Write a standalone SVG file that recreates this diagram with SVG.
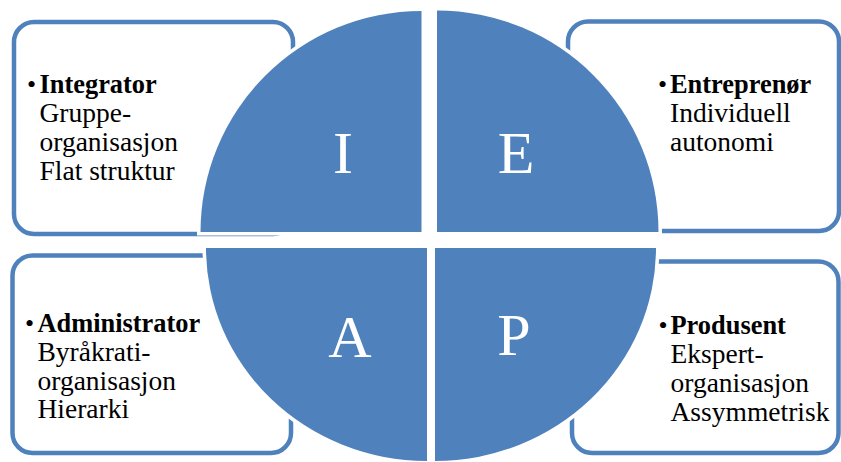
<svg xmlns="http://www.w3.org/2000/svg" width="841" height="462" viewBox="0 0 841 462">
  <style>
    .box { fill: #ffffff; stroke: #4F81BD; stroke-width: 4.5; }
    .q { fill: #4F81BD; stroke: #ffffff; stroke-width: 7; paint-order: stroke; }
    .t { font-family: "Liberation Serif", "Times New Roman", serif; font-size: 27.5px; fill: #000000; }
    .b { font-weight: bold; font-size: 26.4px; }
    .bul { font-family: "Liberation Serif", "Times New Roman", serif; font-size: 26px; fill: #000000; }
    .L { font-family: "Liberation Serif", "Times New Roman", serif; font-size: 60px; fill: #ffffff; text-anchor: middle; }
  </style>
  <rect width="841" height="462" fill="#ffffff"/>

  <g id="box-integrator">
    <rect class="box" x="14" y="22" width="279" height="212" rx="20"/>
    <text class="bul" x="27" y="93">•</text>
    <text class="t" x="39.5" y="93"><tspan class="b">Integrator</tspan><tspan x="39.5" y="122">Gruppe-</tspan><tspan x="39.5" y="151">organisasjon</tspan><tspan x="39.5" y="180">Flat struktur</tspan></text>
  </g>
  <g id="box-entreprenor">
    <rect class="box" x="568" y="21.5" width="271" height="209.5" rx="20"/>
    <text class="bul" x="658" y="93">•</text>
    <text class="t" x="670" y="93"><tspan class="b">Entreprenør</tspan><tspan x="670" y="122">Individuell</tspan><tspan x="670" y="151">autonomi</tspan></text>
  </g>
  <g id="box-administrator">
    <rect class="box" x="12.5" y="255.5" width="278.5" height="197.5" rx="20"/>
    <text class="bul" x="25" y="332">•</text>
    <text class="t" x="37.5" y="332"><tspan class="b">Administrator</tspan><tspan x="37.5" y="361">Byråkrati-</tspan><tspan x="37.5" y="389.5">organisasjon</tspan><tspan x="37.5" y="418">Hierarki</tspan></text>
  </g>
  <g id="box-produsent">
    <rect class="box" x="572" y="261.5" width="266.5" height="191.5" rx="20"/>
    <text class="bul" x="658.5" y="334">•</text>
    <text class="t" x="670.5" y="334"><tspan class="b">Produsent</tspan><tspan x="670.5" y="363">Ekspert-</tspan><tspan x="670.5" y="392">organisasjon</tspan><tspan x="670.5" y="421">Assymmetrisk</tspan></text>
  </g>

  <g id="quadrant-I">
    <path class="q" d="M421.5,232 H200.5 A221,221 0 0 1 421.5,11 Z"/>
    <text class="L" x="343" y="173">I</text>
  </g>
  <g id="quadrant-E">
    <path class="q" d="M437,232 V10.5 A221.5,221.5 0 0 1 658.5,232 Z"/>
    <text class="L" x="516" y="173">E</text>
  </g>
  <g id="quadrant-A">
    <path class="q" d="M427,248 V461 A221,213 0 0 1 206,248 Z"/>
    <text class="L" x="350" y="357">A</text>
  </g>
  <g id="quadrant-P">
    <path class="q" d="M435,248 H656 A221,213 0 0 1 435,461 Z"/>
    <text class="L" x="514" y="355">P</text>
  </g>
  <g id="connectors"/>
</svg>
